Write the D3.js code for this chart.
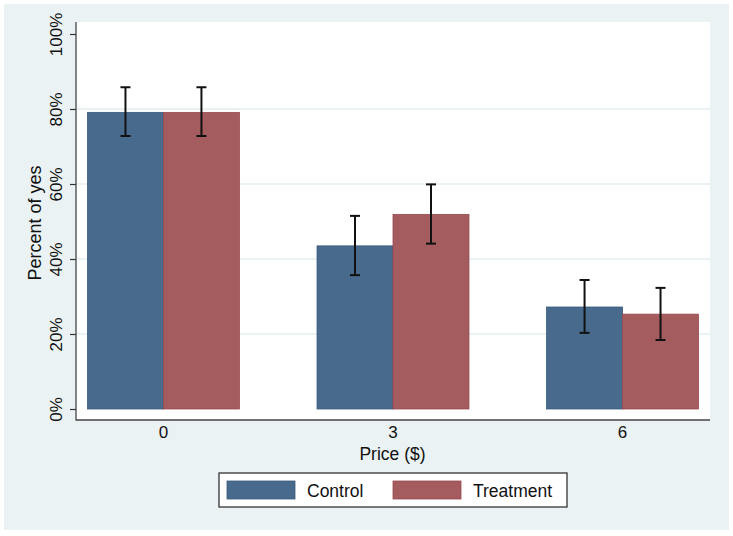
<!DOCTYPE html>
<html>
<head>
<meta charset="utf-8">
<script src="https://cdn.jsdelivr.net/npm/d3@7"></script>
<style>
  html, body { margin: 0; padding: 0; background: #ffffff; }
  svg { display: block; font-family: "Liberation Sans", Arial, sans-serif; }
</style>
</head>
<body>
<svg id="chart" width="733" height="536"></svg>
<script>
// ---- data ----
const categories = ["0", "3", "6"];
const seriesNames = ["Control", "Treatment"];
const controlValues = [0.791, 0.435, 0.272];
const treatmentValues = [0.791, 0.519, 0.253];
const controlLow = [0.728, 0.357, 0.203];
const controlHigh = [0.858, 0.515, 0.344];
const treatmentLow = [0.728, 0.441, 0.184];
const treatmentHigh = [0.858, 0.599, 0.323];
const yTicks = [0, 0.2, 0.4, 0.6, 0.8, 1.0];
const gridTicks = [0.2, 0.4, 0.6, 0.8];
const xTitle = "Price ($)";
const yTitle = "Percent of yes";

const colors = { Control: "#486a8c", Treatment: "#a55c5f" };
const strokes = { Control: "#3a5a7a", Treatment: "#9a4a50" };

const rows = [];
categories.forEach((c, i) => {
  rows.push({ cat: c, series: "Control", value: controlValues[i], lo: controlLow[i], hi: controlHigh[i] });
  rows.push({ cat: c, series: "Treatment", value: treatmentValues[i], lo: treatmentLow[i], hi: treatmentHigh[i] });
});

const svg = d3.select("#chart");

// outer background
svg.append("rect").attr("x", 4).attr("y", 4).attr("width", 725).attr("height", 526).attr("fill", "#eaf2f3");

const plot = { left: 76, right: 710, top: 22, bottom: 420 };
svg.append("rect").attr("x", plot.left).attr("y", plot.top)
  .attr("width", plot.right - plot.left).attr("height", plot.bottom - plot.top).attr("fill", "#ffffff");

const y = d3.scaleLinear().domain([0, 1]).range([409, 34]);
const x = d3.scaleBand().domain(categories).range([plot.left, plot.right]).paddingInner(0.338).paddingOuter(0.05);
const xs = d3.scaleBand().domain(seriesNames).range([0, x.bandwidth()]);

// gridlines
svg.append("g").selectAll("line").data(gridTicks).join("line")
  .attr("x1", plot.left).attr("x2", plot.right)
  .attr("y1", d => y(d)).attr("y2", d => y(d))
  .attr("stroke", "#e4eef0").attr("stroke-width", 1.3);

// bars
svg.append("g").selectAll("rect").data(rows).join("rect")
  .attr("x", d => x(d.cat) + xs(d.series))
  .attr("y", d => y(d.value))
  .attr("width", xs.bandwidth())
  .attr("height", d => y(0) - y(d.value))
  .attr("fill", d => colors[d.series])
  .attr("stroke", d => strokes[d.series])
  .attr("stroke-width", 0.8);

// error bars
const eg = svg.append("g").attr("stroke", "#111").attr("stroke-width", 2);
rows.forEach(d => {
  const cx = x(d.cat) + xs(d.series) + xs.bandwidth() / 2;
  eg.append("line").attr("x1", cx).attr("x2", cx).attr("y1", y(d.lo)).attr("y2", y(d.hi));
  eg.append("line").attr("x1", cx - 5).attr("x2", cx + 5).attr("y1", y(d.lo)).attr("y2", y(d.lo));
  eg.append("line").attr("x1", cx - 5).attr("x2", cx + 5).attr("y1", y(d.hi)).attr("y2", y(d.hi));
});

// y axis
const yAxis = d3.axisLeft(y).tickValues(yTicks).tickFormat(d => Math.round(d * 100) + "%").tickSize(6).tickPadding(4);
const yg = svg.append("g").attr("transform", `translate(${plot.left},0)`).call(yAxis);
yg.select(".domain").remove();
yg.selectAll(".tick line").attr("stroke", "#333").attr("stroke-width", 1.2);
yg.selectAll(".tick text")
  .attr("x", null).attr("dy", null)
  .attr("transform", "translate(-14,0) rotate(-90)")
  .attr("text-anchor", "middle")
  .attr("fill", "#111")
  .style("font-size", "17px")
  .style("font-family", "'Liberation Sans', Arial, sans-serif");
svg.append("line").attr("x1", plot.left).attr("x2", plot.left).attr("y1", plot.top).attr("y2", plot.bottom + 0.6)
  .attr("stroke", "#444").attr("stroke-width", 1.3);

// x axis
const xAxis = d3.axisBottom(x).tickSize(0).tickPadding(6);
const xg = svg.append("g").attr("transform", `translate(0,${plot.bottom})`).call(xAxis);
xg.select(".domain").remove();
xg.selectAll(".tick text").attr("fill", "#111").attr("dy", "0.71em")
  .style("font-size", "17px").style("font-family", "'Liberation Sans', Arial, sans-serif");
svg.append("line").attr("x1", plot.left).attr("x2", plot.right).attr("y1", plot.bottom).attr("y2", plot.bottom)
  .attr("stroke", "#444").attr("stroke-width", 1.3);

// titles
svg.append("text").attr("x", (plot.left + plot.right) / 2 - 0.5).attr("y", 460)
  .attr("text-anchor", "middle").attr("fill", "#111").style("font-size", "17.5px").text(xTitle);
svg.append("text").attr("transform", `translate(41,223) rotate(-90)`)
  .attr("text-anchor", "middle").attr("fill", "#111").style("font-size", "18px").text(yTitle);

// legend
const lg = svg.append("g");
lg.append("rect").attr("x", 219).attr("y", 473).attr("width", 348).attr("height", 34)
  .attr("fill", "#fff").attr("stroke", "#333").attr("stroke-width", 1.3);
const legendItems = [
  { name: "Control", sx: 227, tx: 307 },
  { name: "Treatment", sx: 393, tx: 473 }
];
legendItems.forEach(it => {
  lg.append("rect").attr("x", it.sx).attr("y", 481).attr("width", 68).attr("height", 18)
    .attr("fill", colors[it.name]).attr("stroke", strokes[it.name]).attr("stroke-width", 0.8);
  lg.append("text").attr("x", it.tx).attr("y", 496.5).attr("fill", "#111")
    .style("font-size", "17.5px").text(it.name);
});
</script>
</body>
</html>
